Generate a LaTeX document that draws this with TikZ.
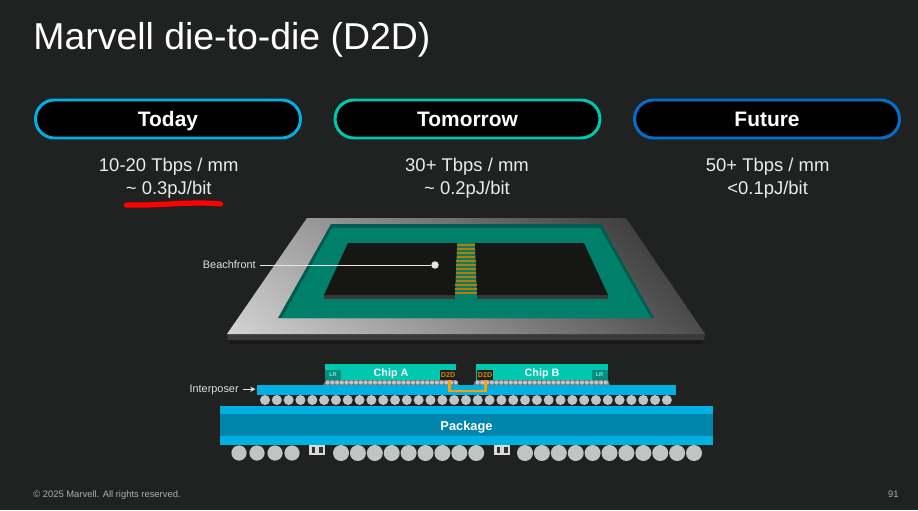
\documentclass[tikz,border=0pt]{standalone}
\usepackage{fontspec}
\setmainfont{Liberation Sans}
\usetikzlibrary{arrows.meta}
\definecolor{slidebg}{HTML}{202222}
\definecolor{cyanpart}{HTML}{00B0E0}
\definecolor{tealpart}{HTML}{00C8B0}
\definecolor{bluepart}{HTML}{0070D0}
\definecolor{pkgcore}{HTML}{0085AD}
\definecolor{ballgrey}{HTML}{C2C3C5}
\definecolor{dietop}{HTML}{161614}
\definecolor{dieside}{HTML}{3A3A36}
\definecolor{amber}{HTML}{FFA000}
\definecolor{ringdark}{HTML}{005C4E}
\definecolor{ringlight}{HTML}{00806A}
\tikzset{
  pill/.style = {rectangle, rounded corners=0.378cm, fill=black, text=white,
    line width=1.7pt, minimum width=5.3cm, minimum height=0.76cm, inner sep=0pt,
    text height=8.5pt, text depth=0pt,
    font=\fontsize{11.9}{14}\selectfont\bfseries},
  spec/.style = {align=center, text=white!92!black, inner sep=0pt,
    font=\fontsize{10.5}{13}\selectfont},
  callout/.style = {text=white!88!black, inner sep=0pt,
    font=\fontsize{6.2}{7.5}\selectfont},
  chiplabel/.style = {anchor=base, text=white, inner sep=0pt,
    font=\fontsize{6.1}{7.5}\selectfont\bfseries},
  lrbox/.style = {rectangle, fill=tealpart!72!black, text=white!55!tealpart, inner sep=0pt,
    minimum width=0.32cm, minimum height=0.2cm, font=\fontsize{3.2}{4}\selectfont\bfseries},
  d2dbox/.style = {rectangle, fill=black!88, text=amber!85!black, inner sep=0pt,
    minimum width=0.32cm, minimum height=0.2cm, font=\fontsize{4.1}{5}\selectfont\bfseries},
  capbox/.style = {rectangle, draw=white!85!black, fill=white!85!black, line width=0.3pt,
    minimum width=0.3cm, minimum height=0.17cm, inner sep=0pt},
  footer/.style = {anchor=base, text=white!68!black, inner sep=0pt, font=\fontsize{5.35}{7}\selectfont}
}

\begin{document}
\begin{tikzpicture}[x=0.02cm,y=-0.02cm]
\useasboundingbox (0,0) rectangle (918,510);
\fill[slidebg] (0,0) rectangle (918,510);

\node[anchor=base west,text=white,inner sep=0pt,font=\fontsize{21.3}{25}\selectfont] (title) at (33,49.5) {Marvell die-to-die (D2D)};

% the three columns
\node[pill,draw=cyanpart] (today) at (168,119) {Today};
\node[pill,draw=tealpart] (tomorrow) at (467.5,119) {Tomorrow};
\node[pill,draw=bluepart] (future) at (767,119) {Future};
\node[spec] (todayspec) at (168.7,178.5) {10-20 Tbps / mm\\\textasciitilde{} 0.3pJ/bit};
\node[spec] (tomorrowspec) at (467,178.5) {30+ Tbps / mm\\\textasciitilde{} 0.2pJ/bit};
\node[spec] (futurespec) at (767.7,178.5) {50+ Tbps / mm\\<0.1pJ/bit};
\draw[red,line width=3pt,line cap=round] (126.5,205) .. controls (150,205.5) and (165,204) .. (185,203.3) .. controls (200,202.8) and (212,203) .. (220.5,204);

% top view of the package
\fill[black!90] (229,340) rectangle (703,344);
\fill[dieside] (227,334) -- (705,334) -- (704,340) -- (228,340) -- cycle;
\begin{scope}
  \clip (307,218) -- (626,218) -- (705,334) -- (227,334) -- cycle;
  \shade[top color=black!84!white,bottom color=white!83!black,shading angle=-42] (128,194) rectangle (804,358);
\end{scope}
\fill[ringdark] (331,224) -- (601,224) -- (654,318) -- (278,318) -- cycle;
\fill[ringlight] (332,228) -- (600,228) -- (651,318) -- (282,318) -- cycle;
\fill[dieside] (324,295) rectangle (455,299);
\fill[dieside] (477,295) rectangle (608,299);
\fill[dietop] (348,243) -- (457,243) -- (455,295) -- (324,295) -- cycle;
\fill[dietop] (475,243) -- (584,243) -- (608,295) -- (477,295) -- cycle;
\foreach \i in {0,...,12}{
  \pgfmathsetmacro{\yy}{243.5+4*\i}
  \pgfmathsetmacro{\dx}{(\yy-243)*2/52}
  \fill[amber!75!black] (457-\dx,\yy) rectangle (475+\dx,\yy+2.2);
}
\node[callout,anchor=base east] (beachfront) at (256,268.5) {Beachfront};
\node[circle,fill=white!90!black,inner sep=0pt,minimum size=0.15cm] (beachdot) at (435,265) {};
\coordinate (beachstart) at (259.5,265);
\draw[white!90!black,line width=0.55pt] (beachstart) -- (beachdot);

% side view
\fill[cyanpart] (257,385) rectangle (676,395);
\fill[black!55] (323,385) -- (326,380) -- (456,380) -- (459,385) -- cycle;
\fill[black!55] (473,385) -- (476,380) -- (608,380) -- (610,385) -- cycle;
\foreach \i in {0,...,27}
  \fill[ballgrey] (327.5+4.75*\i,382.5) circle (2.1);
\foreach \i in {0,...,27}
  \fill[ballgrey] (477.5+4.75*\i,382.5) circle (2.1);
\fill[tealpart] (325,364) rectangle (456,380);
\fill[tealpart] (476,364) rectangle (608,380);
\node[chiplabel] (chipA) at (391,376) {Chip A};
\node[chiplabel] (chipB) at (542,376) {Chip B};
\node[lrbox] (lrA) at (333,375) {LR};
\node[lrbox] (lrB) at (599.5,375) {LR};
\node[d2dbox] (d2dA) at (448,375) {D2D};
\node[d2dbox] (d2dB) at (485,375) {D2D};
\draw[amber,line width=1.4pt] ([xshift=0.03cm]d2dA.south) -- ++(0,10.5) -| ([xshift=0.01cm]d2dB.south);

\node[callout,anchor=base east] (interposer) at (239,392) {Interposer};
\coordinate (interposerstart) at (242.5,389.2);
\coordinate (interposeredge) at (255.5,389.2);
\draw[-{Stealth[length=3pt,width=3pt]},white!90!black,line width=0.55pt] (interposerstart) -- (interposeredge);

\foreach \i in {0,...,34}
  \fill[ballgrey] (265+11.82*\i,400) circle (5);

\fill[cyanpart] (220,406) rectangle (713,445);
\fill[pkgcore] (220,414) rectangle (713,436);
\node[chiplabel,font=\fontsize{7.3}{9}\selectfont\bfseries] (package) at (466.5,430.5) {Package};

\foreach \xx in {239,257,275,292}
  \fill[ballgrey] (\xx,453) circle (7.6);
\foreach \i in {0,...,8}
  \fill[ballgrey] (341+16.9*\i,453) circle (8);
\foreach \i in {0,...,10}
  \fill[ballgrey] (525+16.9*\i,453) circle (8);

% capacitors under the package
\foreach \nm/\xx in {capA/317,capB/502}{
  \node[capbox] (\nm) at (\xx,450) {};
  \fill[black!80] (\xx-5.5,447) rectangle (\xx-2,453);
  \fill[black!80] (\xx+2,447) rectangle (\xx+5.5,453);
}

\node[footer,anchor=base west] (copyright) at (33,497.7) {© 2025 Marvell. All rights reserved.};
\node[footer,anchor=base east] (pagenum) at (899,497.7) {91};
\end{tikzpicture}
\end{document}
